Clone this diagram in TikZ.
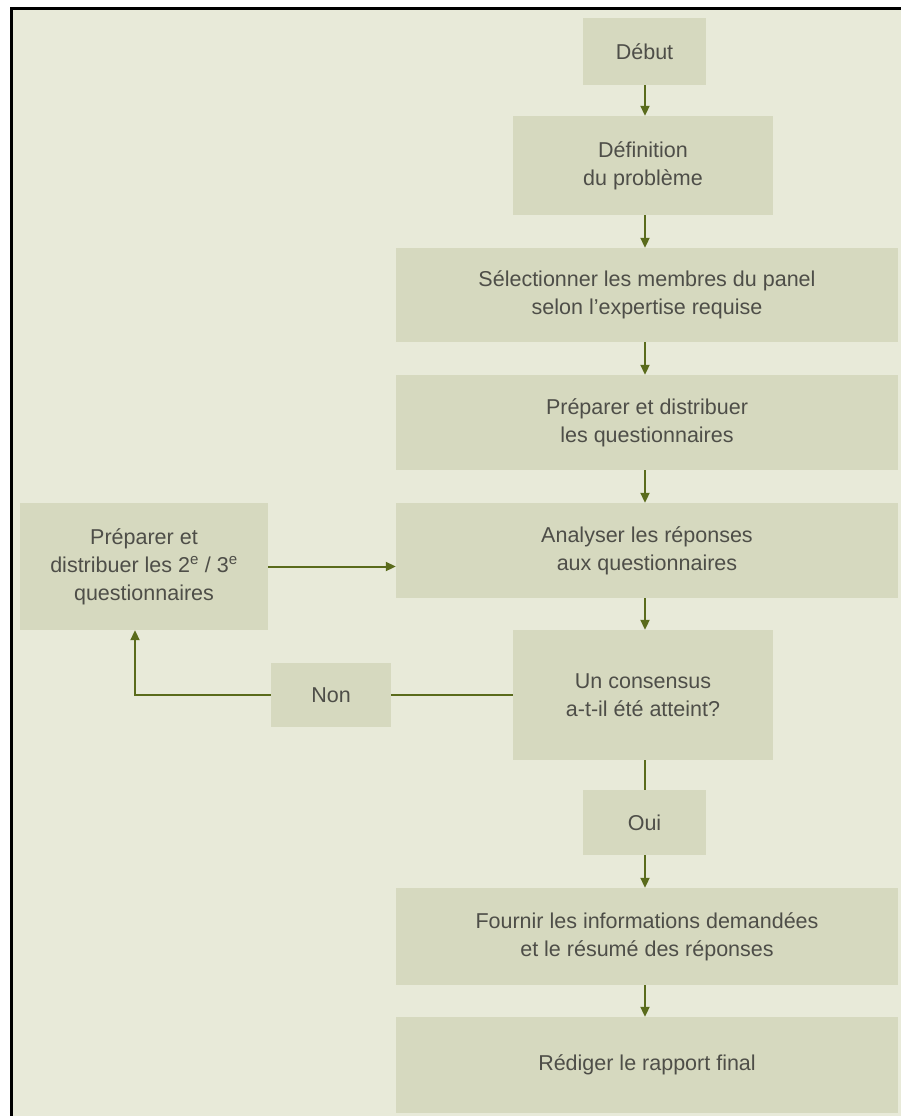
\documentclass[tikz,border=0pt]{standalone}
\usepackage{fontspec}
\setmainfont{Liberation Sans}
\usetikzlibrary{arrows.meta,calc}
\definecolor{bgc}{HTML}{E8EAD9}
\definecolor{boxc}{HTML}{D6D9BF}
\definecolor{arrc}{HTML}{5A6B1C}
\definecolor{txtc}{HTML}{4E4E48}
\begin{document}
\begin{tikzpicture}[x=1pt,y=-1pt,
  box/.style={fill=boxc,draw=none,align=center,inner sep=0pt,text=txtc,
    font=\fontsize{21.5}{28}\selectfont},
  arr/.style={draw=arrc,line width=2pt,-{Triangle[length=10pt,width=9pt]}},
  ln/.style={draw=arrc,line width=2pt}]
\useasboundingbox (0,0) rectangle (901,1116);
\fill[white] (0,0) rectangle (901,1116);
\fill[bgc] (11,9) rectangle (901,1116);
\draw[black,line width=3pt] (11,1116) -- (11,9) -- (901,9);
\node[box,minimum width=123pt,minimum height=67pt] (debut) at (644.5,51.5) {Début};
\node[box,minimum width=260pt,minimum height=99pt] (def) at (643,165.5) {Définition\\du problème};
\node[box,minimum width=502pt,minimum height=94pt] (sel) at (647,295) {Sélectionner les membres du panel\\selon l’expertise requise};
\node[box,minimum width=502pt,minimum height=95pt] (prep) at (647,422.5) {Préparer et distribuer\\les questionnaires};
\node[box,minimum width=502pt,minimum height=95pt] (ana) at (647,550.5) {Analyser les réponses\\aux questionnaires};
\node[box,minimum width=248pt,minimum height=127pt] (left) at (144,566.5) {Préparer et\\distribuer les 2\textsuperscript{e} / 3\textsuperscript{e}\\questionnaires};
\node[box,minimum width=260pt,minimum height=130pt] (cons) at (643,695) {Un consensus\\a-t-il été atteint?};
\node[box,minimum width=120pt,minimum height=64pt] (non) at (331,695) {Non};
\node[box,minimum width=123pt,minimum height=65pt] (oui) at (644.5,822.5) {Oui};
\node[box,minimum width=502pt,minimum height=97pt] (four) at (647,936.5) {Fournir les informations demandées\\et le résumé des réponses};
\node[box,minimum width=502pt,minimum height=96pt] (red) at (647,1065) {Rédiger le rapport final};
\coordinate (cx) at (645,0);
\draw[arr] (debut.south -| cx) -- (def.north -| cx);
\draw[arr] (def.south -| cx) -- (sel.north -| cx);
\draw[arr] (sel.south -| cx) -- (prep.north -| cx);
\draw[arr] (prep.south -| cx) -- (ana.north -| cx);
\draw[arr] (ana.south -| cx) -- (cons.north -| cx);
\draw[ln] (cons.south -| cx) -- (oui.north -| cx);
\draw[arr] (oui.south -| cx) -- (four.north -| cx);
\draw[arr] (four.south -| cx) -- (red.north -| cx);
\draw[arr] (left.east) -- (left.east -| ana.west);
\draw[ln] (cons.west) -- (non.east);
\draw[arr] (non.west) -| ([xshift=-9pt]left.south);
\end{tikzpicture}
\end{document}
